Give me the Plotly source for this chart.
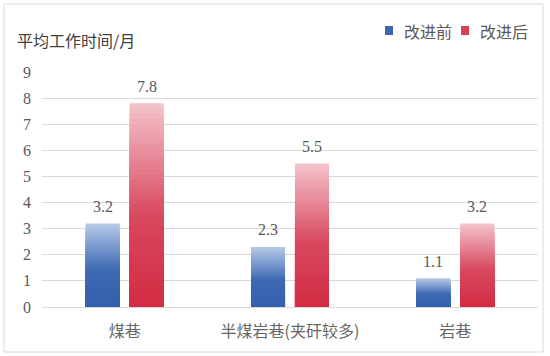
import plotly.graph_objects as go

categories = ["煤巷", "半煤岩巷(夹矸较多)", "岩巷"]
before = [3.2, 2.3, 1.1]
after = [7.8, 5.5, 3.2]
series_names = ["改进前", "改进后"]
y_ticks = [0, 1, 2, 3, 4, 5, 6, 7, 8, 9]
y_title = "平均工作时间/月"

W, H = 550, 356
L, R, T, B = 42, 12, 72, 49
PW, PH = W - L - R, H - T - B


def px_x(p):
    return (p - L) / PW


def px_y(p):
    return (H - B - p) / PH


# gradient stops (t from bottom 0 to top 1)
blue_stops = [(0.0, (52, 96, 172)), (0.45, (62, 106, 180)), (1.0, (184, 202, 232))]
red_stops = [(0.0, (210, 44, 68)), (0.45, (216, 72, 94)), (1.0, (244, 196, 204))]


def interp(stops, t):
    for (t0, c0), (t1, c1) in zip(stops[:-1], stops[1:]):
        if t <= t1:
            f = (t - t0) / (t1 - t0) if t1 > t0 else 0
            return "rgb(%d,%d,%d)" % tuple(round(a + (b - a) * f) for a, b in zip(c0, c1))
    return "rgb(%d,%d,%d)" % stops[-1][1]


N = 40
fig = go.Figure()
for name, vals, stops, grp in [(series_names[0], before, blue_stops, "a"),
                               (series_names[1], after, red_stops, "b")]:
    for k in range(N - 1, -1, -1):
        frac = (k + 1) / N
        fig.add_trace(go.Bar(
            x=categories,
            y=[v * frac for v in vals],
            offsetgroup=grp,
            name=name,
            showlegend=False,
            marker=dict(color=interp(stops, (k + 0.5) / N), line=dict(width=0)),
            hoverinfo="skip",
        ))

text_col = "#595959"
num_font = dict(family="Liberation Serif, DejaVu Serif, serif", size=16, color=text_col)
cjk_font = dict(family="Noto Sans CJK SC, sans-serif", size=16, color=text_col)
cat_font = dict(family="Noto Sans CJK SC, sans-serif", size=16, color="#666666")

annotations = []
for vals, dx in [(before, -22), (after, 22)]:
    for c, v in zip(categories, vals):
        annotations.append(dict(x=c, y=v, text=str(v), showarrow=False, xshift=dx, yshift=17,
                                font=num_font, xref="x", yref="y"))

annotations.append(dict(x=px_x(15), y=px_y(40), xref="paper", yref="paper",
                        text=y_title, showarrow=False, xanchor="left", yanchor="middle",
                        font=dict(family="Noto Sans CJK SC, sans-serif", size=16, color="#404040")))

# legend (manual)
shapes = []
legend_items = [(series_names[0], blue_stops, 385, 402), (series_names[1], red_stops, 461, 478)]
for name, stops, sx, tx in legend_items:
    shapes.append(dict(type="rect", xref="paper", yref="paper",
                       x0=px_x(sx), x1=px_x(sx + 8), y0=px_y(35), y1=px_y(26),
                       line=dict(width=0), fillcolor=interp(stops, 0.3)))
    annotations.append(dict(x=px_x(tx), y=px_y(30.5), xref="paper", yref="paper", text=name,
                            showarrow=False, xanchor="left", yanchor="middle", font=cjk_font))

shapes.append(dict(type="rect", xref="paper", yref="paper",
                   x0=px_x(4), x1=px_x(543), y0=px_y(352), y1=px_y(4),
                   line=dict(color="#d9d9d9", width=1), fillcolor="rgba(0,0,0,0)"))

fig.update_layout(
    width=W, height=H,
    margin=dict(l=L, r=R, t=T, b=B),
    paper_bgcolor="white", plot_bgcolor="white",
    barmode="group", bargap=0.468, bargroupgap=0.227,
    showlegend=False,
    hovermode=False,
    xaxis=dict(showgrid=False, showline=True, linecolor="#d9d9d9", linewidth=1,
               tickfont=cat_font, ticks="", ticklabelstandoff=10),
    yaxis=dict(range=[0, 9], tickvals=y_ticks, showgrid=True, gridcolor="#d9d9d9",
               gridwidth=1, zeroline=False, showline=False, tickfont=num_font,
               ticks="", ticklabelstandoff=10),
    annotations=annotations,
    shapes=shapes,
)

fig.write_html("out.html", config={"displayModeBar": False},
               post_script="document.body.style.margin='0';")
